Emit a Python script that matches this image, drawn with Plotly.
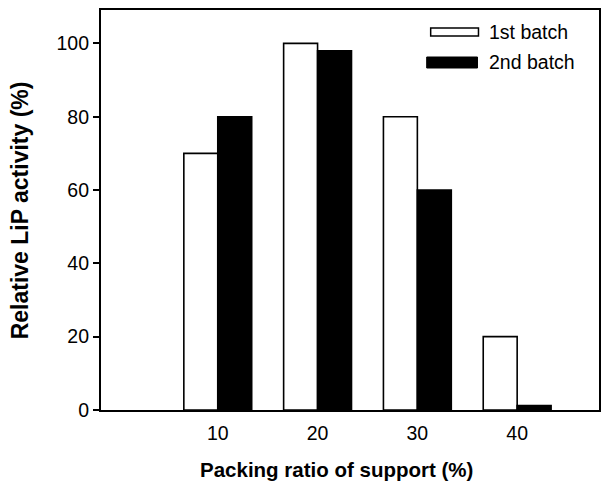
import plotly.graph_objects as go

categories = [10, 20, 30, 40]
batch1 = [70, 100, 80, 20]
batch2 = [80, 98, 60, 1.2]
series_names = ["1st batch", "2nd batch"]
y_ticks = [0, 20, 40, 60, 80, 100]

W, H = 603, 486
L, R, T, B = 101, 2, 10, 76
pw, ph = W - L - R, H - T - B

def px(x):
    return (x - L) / pw

def py(y):
    return (H - B - y) / ph

fig = go.Figure()
fig.add_trace(go.Bar(x=categories, y=batch1, name=series_names[0],
                     marker=dict(color="white", line=dict(color="black", width=1.6)),
                     showlegend=False, hoverinfo="skip"))
fig.add_trace(go.Bar(x=categories, y=batch2, name=series_names[1],
                     marker=dict(color="black", line=dict(color="black", width=1.6)),
                     showlegend=False, hoverinfo="skip"))

font = "Liberation Sans, Arial, sans-serif"

fig.update_layout(
    width=W, height=H,
    margin=dict(l=L, r=R, t=T, b=B, pad=0),
    plot_bgcolor="white", paper_bgcolor="white",
    barmode="group", bargap=0.32, bargroupgap=0,
    font=dict(family=font, color="black", size=19),
    xaxis=dict(range=[-1.7, 48.2], tickvals=categories, ticktext=[str(c) for c in categories],
               showgrid=False, zeroline=False, showline=True, linecolor="black", linewidth=2.2,
               mirror=True, ticks="", ticklabelstandoff=4,
               tickfont=dict(size=19.5, family=font)),
    yaxis=dict(range=[0, 109.1], tickvals=y_ticks, showgrid=False, zeroline=False,
               showline=True, linecolor="black", linewidth=2.2, mirror=True,
               ticks="outside", ticklen=6, tickwidth=2, tickcolor="black",
               tickfont=dict(size=19.5, family=font)),
)

# axis titles
fig.add_annotation(text="<b>Packing ratio of support (%)</b>", xref="paper", yref="paper",
                   x=px(337), y=py(470), showarrow=False, xanchor="center", yanchor="middle",
                   font=dict(size=20.5, family=font))
fig.add_annotation(text="<b>Relative LiP activity (%)</b>", xref="paper", yref="paper",
                   x=px(20), y=py(210), showarrow=False, xanchor="center", yanchor="middle",
                   textangle=-90, font=dict(size=23, family=font))

# legend
fig.add_shape(type="rect", xref="paper", yref="paper", x0=px(432), x1=px(480), y0=py(36), y1=py(28),
              line=dict(color="black", width=1.5), fillcolor="white")
fig.add_shape(type="rect", xref="paper", yref="paper", x0=px(428), x1=px(479), y0=py(68), y1=py(57),
              line=dict(color="black", width=1), fillcolor="black")
fig.add_annotation(text=series_names[0], xref="paper", yref="paper", x=px(489), y=py(32),
                   showarrow=False, xanchor="left", yanchor="middle", font=dict(size=19.5, family=font))
fig.add_annotation(text=series_names[1], xref="paper", yref="paper", x=px(489), y=py(62),
                   showarrow=False, xanchor="left", yanchor="middle", font=dict(size=19.5, family=font))

fig.write_html("out.html", config={"displayModeBar": False},
               post_script="document.body.style.margin='0';document.body.style.overflow='hidden';")
